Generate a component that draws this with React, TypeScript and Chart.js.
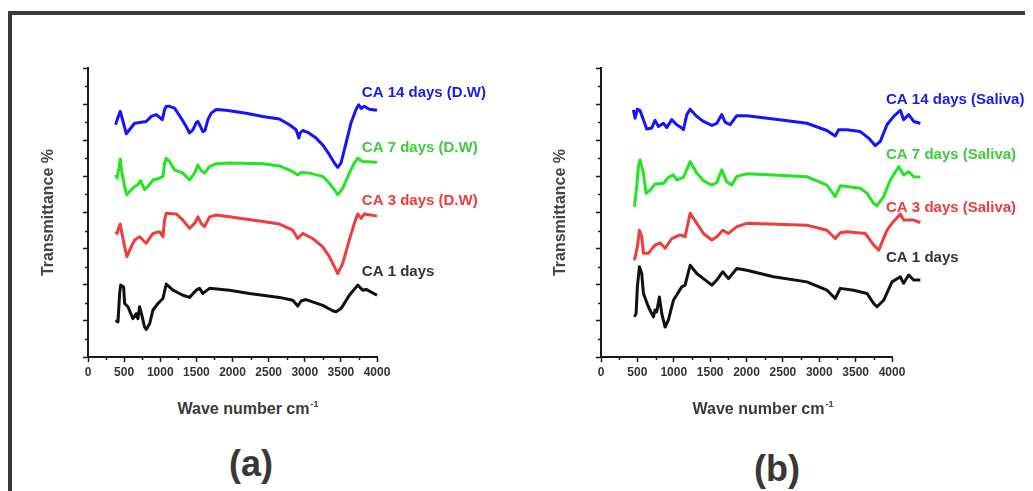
import React, { useEffect, useRef } from "react";
import { Chart, registerables } from "chart.js";

Chart.register(...registerables);

type Pt = [number, number];

// ---------- Panel (a): distilled water ----------
const A_CA14: Pt[] = [
  [382, 6.43], [400, 6.55], [447, 6.8], [530, 6.18], [645, 6.47], [806, 6.52], [876, 6.66], [945, 6.71],
  [1028, 6.57], [1060, 6.85], [1083, 6.94], [1129, 6.94], [1198, 6.89], [1290, 6.61], [1359, 6.38],
  [1405, 6.2], [1452, 6.29], [1498, 6.49], [1521, 6.52], [1557, 6.38], [1590, 6.24], [1620, 6.27],
  [1659, 6.57], [1705, 6.75], [1774, 6.85], [1912, 6.83], [2189, 6.75], [2419, 6.66], [2650, 6.59],
  [2788, 6.43], [2880, 6.29], [2903, 6.15], [2917, 6.06], [2935, 6.2], [2972, 6.27], [3041, 6.22],
  [3157, 6.06], [3249, 5.87], [3341, 5.6], [3410, 5.37], [3456, 5.25], [3502, 5.37], [3571, 5.92],
  [3640, 6.48], [3709, 6.85], [3746, 6.98], [3780, 6.88], [3824, 6.94], [3894, 6.86], [4000, 6.83],
];
const A_CA7: Pt[] = [
  [382, 5.04], [401, 4.95], [429, 5.23], [447, 5.48], [465, 5.15], [507, 4.72], [539, 4.49], [576, 4.58],
  [645, 4.72], [691, 4.77], [728, 4.88], [783, 4.63], [830, 4.72], [899, 4.9], [991, 4.95], [1037, 5.0],
  [1060, 5.37], [1083, 5.5], [1129, 5.41], [1198, 5.18], [1313, 5.09], [1405, 4.9], [1475, 5.09],
  [1521, 5.32], [1557, 5.18], [1613, 5.09], [1682, 5.27], [1774, 5.35], [1958, 5.37], [2419, 5.35],
  [2650, 5.29], [2834, 5.13], [2903, 5.04], [2950, 5.11], [3064, 5.09], [3249, 5.0], [3341, 4.81],
  [3410, 4.63], [3456, 4.49], [3525, 4.67], [3617, 5.09], [3686, 5.37], [3733, 5.5], [3801, 5.41],
  [4000, 5.39],
];
const A_CA3: Pt[] = [
  [382, 3.47], [401, 3.42], [429, 3.61], [447, 3.68], [465, 3.47], [507, 3.05], [539, 2.78], [576, 2.96],
  [645, 3.24], [714, 3.33], [760, 3.24], [806, 3.15], [899, 3.42], [991, 3.47], [1037, 3.33], [1060, 3.79],
  [1083, 3.98], [1221, 3.96], [1313, 3.79], [1405, 3.56], [1475, 3.7], [1521, 3.88], [1567, 3.7],
  [1613, 3.61], [1682, 3.88], [1774, 3.93], [1958, 3.88], [2419, 3.75], [2650, 3.68], [2834, 3.51],
  [2903, 3.28], [2972, 3.42], [3110, 3.28], [3249, 3.05], [3341, 2.78], [3410, 2.5], [3456, 2.31],
  [3525, 2.59], [3617, 3.24], [3686, 3.7], [3733, 3.96], [3780, 3.84], [3824, 3.96], [4000, 3.9],
];
const A_CA1: Pt[] = [
  [382, 1.02], [415, 0.97], [438, 1.76], [452, 1.99], [493, 1.94], [507, 1.48], [553, 1.39], [622, 1.06],
  [668, 1.2], [691, 1.06], [714, 1.39], [740, 1.2], [783, 0.83], [806, 0.76], [853, 0.92], [899, 1.3],
  [968, 1.48], [1037, 1.62], [1083, 2.02], [1175, 1.85], [1313, 1.71], [1405, 1.65], [1498, 1.85],
  [1544, 1.9], [1590, 1.76], [1682, 1.9], [1958, 1.85], [2235, 1.76], [2650, 1.65], [2834, 1.57],
  [2903, 1.41], [2950, 1.55], [3018, 1.59], [3249, 1.43], [3387, 1.28], [3433, 1.25], [3502, 1.34],
  [3617, 1.71], [3733, 1.99], [3801, 1.85], [3850, 1.87], [4000, 1.71],
];

// ---------- Panel (b): saliva ----------
const B_CA14: Pt[] = [
  [445, 6.84], [468, 6.61], [500, 6.86], [537, 6.82], [583, 6.57], [628, 6.31], [697, 6.34], [743, 6.55],
  [790, 6.38], [858, 6.47], [904, 6.35], [972, 6.57], [1041, 6.43], [1110, 6.34], [1133, 6.29], [1179, 6.71],
  [1225, 6.86], [1317, 6.66], [1408, 6.52], [1523, 6.41], [1592, 6.47], [1660, 6.71], [1706, 6.5],
  [1775, 6.43], [1867, 6.68], [2004, 6.68], [2371, 6.59], [2830, 6.47], [3105, 6.27], [3220, 6.12],
  [3266, 6.29], [3381, 6.29], [3564, 6.24], [3679, 6.06], [3771, 5.85], [3839, 5.97], [3931, 6.43],
  [4023, 6.66], [4115, 6.83], [4160, 6.57], [4229, 6.71], [4298, 6.52], [4390, 6.47],
];
const B_CA7: Pt[] = [
  [459, 4.16], [491, 4.72], [514, 5.27], [537, 5.46], [583, 5.09], [619, 4.53], [674, 4.62], [743, 4.79],
  [858, 4.81], [926, 4.97], [995, 5.04], [1041, 4.9], [1133, 4.97], [1225, 5.41], [1317, 5.09], [1408, 4.88],
  [1523, 4.76], [1592, 4.83], [1660, 5.18], [1729, 4.85], [1798, 4.76], [1867, 5.0], [2004, 5.07],
  [2371, 5.04], [2830, 4.99], [3105, 4.76], [3220, 4.44], [3289, 4.74], [3381, 4.72], [3564, 4.67],
  [3656, 4.53], [3748, 4.25], [3794, 4.19], [3885, 4.44], [3977, 4.9], [4092, 5.27], [4160, 5.04],
  [4229, 5.13], [4298, 4.99], [4390, 4.98],
];
const B_CA3: Pt[] = [
  [459, 2.68], [500, 3.05], [528, 3.51], [560, 3.33], [583, 2.87], [651, 2.87], [743, 3.1], [812, 3.16],
  [881, 3.01], [972, 3.28], [1087, 3.38], [1156, 3.33], [1225, 3.98], [1317, 3.7], [1408, 3.42],
  [1523, 3.24], [1592, 3.33], [1674, 3.51], [1752, 3.42], [1867, 3.61], [2004, 3.7], [2830, 3.65],
  [3105, 3.51], [3220, 3.28], [3289, 3.44], [3381, 3.47], [3633, 3.42], [3748, 3.1], [3817, 2.96],
  [3931, 3.51], [4000, 3.7], [4115, 3.96], [4160, 3.79], [4298, 3.79], [4390, 3.72],
];
const B_CA1: Pt[] = [
  [459, 1.11], [482, 1.2], [500, 1.94], [528, 2.5], [560, 2.31], [583, 1.76], [651, 1.39], [720, 1.11],
  [743, 1.3], [766, 1.25], [803, 1.66], [835, 1.2], [881, 0.83], [926, 1.02], [995, 1.57], [1110, 1.94],
  [1156, 1.99], [1225, 2.54], [1317, 2.31], [1408, 2.17], [1523, 1.99], [1592, 2.13], [1674, 2.36],
  [1752, 2.17], [1867, 2.45], [2004, 2.4], [2371, 2.22], [2830, 2.08], [3105, 1.85], [3220, 1.62],
  [3289, 1.9], [3472, 1.85], [3656, 1.76], [3748, 1.48], [3794, 1.39], [3885, 1.57], [4000, 2.08],
  [4115, 2.22], [4160, 2.04], [4229, 2.27], [4298, 2.13], [4390, 2.13],
];

const A_NAMES = ["CA 14 days (D.W)", "CA 7 days (D.W)", "CA 3 days (D.W)", "CA 1 days"];
const B_NAMES = ["CA 14 days (Saliva)", "CA 7 days (Saliva)", "CA 3 days (Saliva)", "CA 1 days"];

const LINE_COLORS = ["#1414ff", "#22e622", "#f03c3c", "#111111"];
const TEXT_COLORS = ["#1a1ae6", "#3dcc3d", "#ee3b3b", "#333333"];

// label anchors in data units (left edge, vertical middle)
const A_LABEL_AT: Pt[] = [[3790, 7.31], [3790, 5.79], [3790, 4.32], [3790, 2.35]];
const B_LABEL_AT: Pt[] = [[3918, 7.11], [3918, 5.59], [3918, 4.12], [3918, 2.74]];

const X_MIN = 0;
const X_MAX = 4000;
const X_STEP = 250;
const X_LABEL_STEP = 500;
const Y_MIN = 0;
const Y_MAX = 8;
const Y_STEP = 0.5;

const FONT = "'Liberation Sans', Arial, Helvetica, sans-serif";
const AXIS_COLOR = "#1a1a1a";

const minorTicks = {
  id: "minorTicks",
  afterDraw(chart: any) {
    const { ctx } = chart;
    const xs = chart.scales.x;
    const ys = chart.scales.y;
    ctx.save();
    ctx.strokeStyle = AXIS_COLOR;
    ctx.lineWidth = 1.5;
    ctx.beginPath();
    for (const t of xs.ticks) {
      if (t.value % X_LABEL_STEP !== 0) {
        const px = Math.round(xs.getPixelForValue(t.value)) + 0.5;
        ctx.moveTo(px, chart.chartArea.bottom);
        ctx.lineTo(px, chart.chartArea.bottom + 3);
      }
    }
    for (const t of ys.ticks) {
      if (t.value % 1 !== 0) {
        const py = Math.round(ys.getPixelForValue(t.value)) + 0.5;
        ctx.moveTo(chart.chartArea.left - 3, py);
        ctx.lineTo(chart.chartArea.left, py);
      }
    }
    ctx.stroke();
    ctx.restore();
  },
};

const curveLabels = {
  id: "curveLabels",
  afterDatasetsDraw(chart: any, _args: any, opts: any) {
    const { ctx } = chart;
    const xs = chart.scales.x;
    const ys = chart.scales.y;
    ctx.save();
    ctx.font = `bold 15px ${FONT}`;
    ctx.textAlign = "left";
    ctx.textBaseline = "middle";
    (opts.items || []).forEach((it: any) => {
      ctx.fillStyle = it.color;
      ctx.fillText(it.text, xs.getPixelForValue(it.x), ys.getPixelForValue(it.y));
    });
    ctx.restore();
  },
};

function Panel(props: {
  series: Pt[][];
  names: string[];
  labelAt: Pt[];
  width: number;
  height: number;
  left: number;
  yAxisWidth: number;
  padRight: number;
}) {
  const ref = useRef<HTMLCanvasElement | null>(null);
  useEffect(() => {
    if (!ref.current) return;
    const { series, names, labelAt, height, yAxisWidth, padRight } = props;
    const plotTop = 60;
    const plotBottom = 349;
    const chart = new Chart(ref.current, {
      type: "line",
      data: {
        datasets: series.map((pts, i) => ({
          label: names[i],
          data: pts.map(([x, y]) => ({ x, y })),
          borderColor: LINE_COLORS[i],
          backgroundColor: LINE_COLORS[i],
          borderWidth: 3,
          pointRadius: 0,
          tension: 0,
          fill: false,
          clip: false as any,
          borderJoinStyle: "round" as const,
        })),
      },
      options: {
        animation: false,
        responsive: false,
        devicePixelRatio: 1,
        events: [],
        layout: { padding: { top: plotTop, right: padRight, left: 0, bottom: 0 } },
        plugins: {
          legend: { display: false },
          tooltip: { enabled: false },
          curveLabels: {
            items: names.map((n, i) => ({ text: n, color: TEXT_COLORS[i], x: labelAt[i][0], y: labelAt[i][1] })),
          },
        } as any,
        scales: {
          x: {
            type: "linear",
            afterDataLimits: (s: any) => {
              s.min = X_MIN;
              s.max = X_MAX;
            },
            afterFit: (s: any) => {
              s.height = height - plotBottom;
            },
            border: { display: true, color: AXIS_COLOR, width: 2 },
            grid: {
              display: true,
              drawOnChartArea: false,
              drawTicks: true,
              tickLength: 5,
              tickWidth: 1.5,
              tickColor: (c: any) => (c.tick && c.tick.value % X_LABEL_STEP === 0 ? AXIS_COLOR : "rgba(0,0,0,0)"),
            },
            ticks: {
              stepSize: X_STEP,
              autoSkip: false,
              maxRotation: 0,
              padding: 3,
              color: "#333333",
              font: { family: FONT, size: 12, weight: "bold" },
              callback: (v: any) => (Number(v) % X_LABEL_STEP === 0 ? String(v) : ""),
            },
          },
          y: {
            type: "linear",
            min: Y_MIN,
            max: Y_MAX,
            afterFit: (s: any) => {
              s.width = yAxisWidth;
            },
            border: { display: true, color: AXIS_COLOR, width: 2 },
            grid: {
              display: true,
              drawOnChartArea: false,
              drawTicks: true,
              tickLength: 5,
              tickWidth: 1.5,
              tickColor: (c: any) => (c.tick && c.tick.value % 1 === 0 ? AXIS_COLOR : "rgba(0,0,0,0)"),
            },
            ticks: { display: false, stepSize: Y_STEP },
            title: {
              display: true,
              text: "Transmittance %",
              color: "#444444",
              font: { family: FONT, size: 16, weight: "bold" },
              padding: { top: 31, bottom: 0 },
            },
          },
        },
      },
      plugins: [minorTicks, curveLabels],
    } as any);
    return () => chart.destroy();
  }, []);
  return (
    <canvas
      ref={ref}
      width={props.width}
      height={props.height}
      style={{ position: "absolute", left: props.left, top: 0, width: props.width, height: props.height }}
    />
  );
}

const titleStyle: React.CSSProperties = {
  position: "absolute",
  width: 300,
  textAlign: "center",
  fontFamily: FONT,
  fontWeight: "bold",
  fontSize: 16,
  lineHeight: "16px",
  color: "#3a3a3a",
  whiteSpace: "nowrap",
};

const panelTagStyle: React.CSSProperties = {
  position: "absolute",
  width: 200,
  textAlign: "center",
  fontFamily: FONT,
  fontWeight: "bold",
  fontSize: 36,
  lineHeight: "36px",
  color: "#383838",
};

function XTitle({ left }: { left: number }) {
  return (
    <div style={{ ...titleStyle, left, top: 393 }}>
      Wave number cm
      <span style={{ fontSize: 9, position: "relative", top: -7, marginLeft: 1 }}>-1</span>
    </div>
  );
}

export default function App() {
  return (
    <div style={{ position: "relative", width: 1025, height: 483, overflow: "hidden", background: "#ffffff" }}>
      <div
        style={{
          position: "absolute",
          left: 0,
          top: 3,
          width: 1200,
          height: 700,
          borderTop: "4px solid #3a3a3a",
          borderLeft: "4px solid #3a3a3a",
        }}
      />
      <Panel
        series={[A_CA14, A_CA7, A_CA3, A_CA1]}
        names={A_NAMES}
        labelAt={A_LABEL_AT}
        width={500}
        height={392}
        left={0}
        yAxisWidth={80}
        padRight={131}
      />
      <Panel
        series={[B_CA14, B_CA7, B_CA3, B_CA1]}
        names={B_NAMES}
        labelAt={B_LABEL_AT}
        width={513}
        height={392}
        left={512}
        yAxisWidth={81}
        padRight={141}
      />
      <XTitle left={90} />
      <XTitle left={605} />
      <div style={{ ...panelTagStyle, left: 143, top: 438 }}>(a)</div>
      <div style={{ ...panelTagStyle, left: 669, top: 443 }}>(b)</div>
    </div>
  );
}
